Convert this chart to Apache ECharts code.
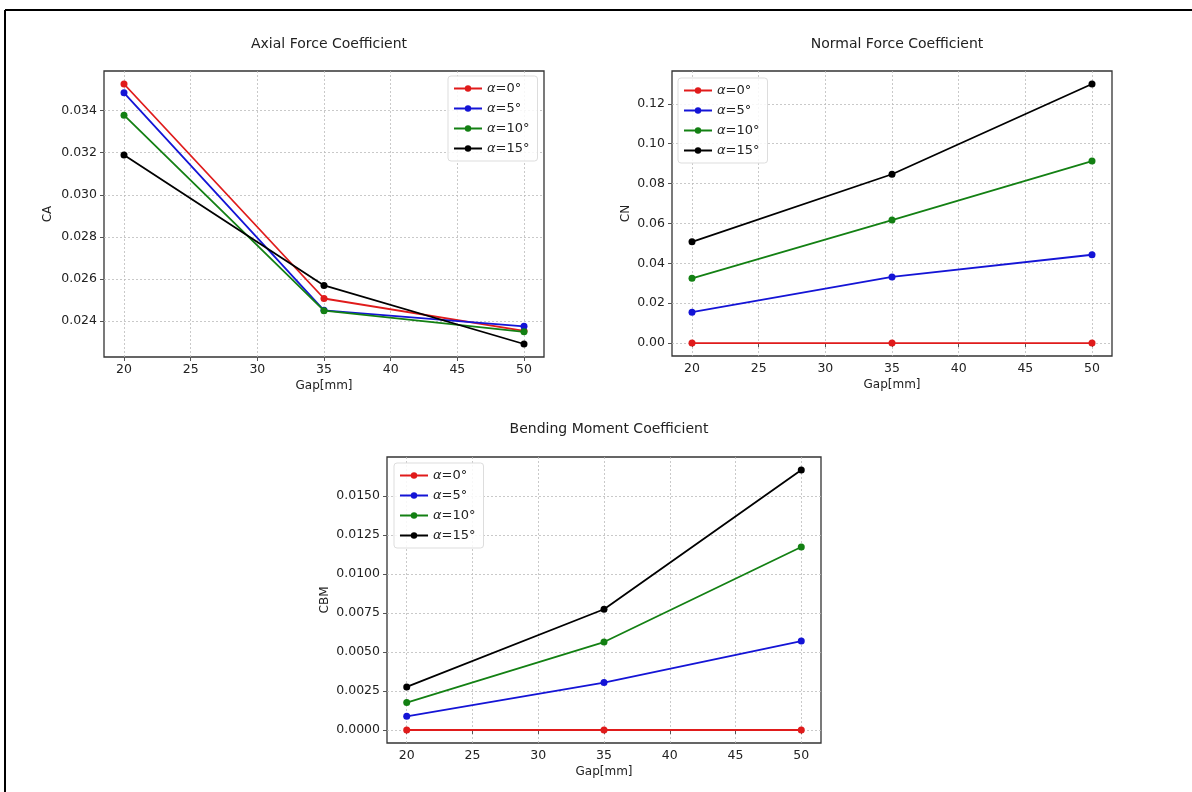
<!DOCTYPE html>
<html>
<head>
<meta charset="utf-8">
<title>Force coefficients vs gap</title>
<script src="https://cdn.jsdelivr.net/npm/echarts@6/dist/echarts.min.js"></script>
<style>
	html, body { margin: 0; padding: 0; background: #fff; }
	#chart { width: 1192px; height: 792px; }
</style>
</head>
<body>
<div id="chart"></div>
<script>
// gap values (x) and tick labels
var gap = [20, 35, 50];
var gapTicks = [20, 25, 30, 35, 40, 45, 50];

var names = ['α=0°', 'α=5°', 'α=10°', 'α=15°'];
var colors = ['#e01b1b', '#1414d6', '#138013', '#000000'];

// Axial force coefficient CA
var ca0 = [0.03526, 0.02508, 0.02354];
var ca5 = [0.03484, 0.02452, 0.02376];
var ca10 = [0.03378, 0.02450, 0.02350];
var ca15 = [0.03189, 0.02570, 0.02292];
var caTicks = [0.024, 0.026, 0.028, 0.030, 0.032, 0.034];

// Normal force coefficient CN
var cn0 = [0, 0, 0];
var cn5 = [0.0155, 0.0332, 0.0443];
var cn10 = [0.0325, 0.0617, 0.0913];
var cn15 = [0.0508, 0.0847, 0.1300];
var cnTicks = [0.00, 0.02, 0.04, 0.06, 0.08, 0.10, 0.12];

// Bending moment coefficient CBM
var cbm0 = [0, 0, 0];
var cbm5 = [0.00088, 0.00304, 0.0057];
var cbm10 = [0.00176, 0.00564, 0.01173];
var cbm15 = [0.00276, 0.00774, 0.01667];
var cbmTicks = [0.0000, 0.0025, 0.0050, 0.0075, 0.0100, 0.0125, 0.0150];

var FONT = 'DejaVu Sans';

// matplotlib style 5% margins
function pad(arrs) {
	var all = [].concat.apply([], arrs);
	var lo = Math.min.apply(null, all), hi = Math.max.apply(null, all);
	var m = (hi - lo) * 0.05;
	return [lo - m, hi + m];
}

function xAxisCfg(idx) {
	return {
		type : 'value',
		gridIndex : idx,
		min : 18.5,
		max : 51.5,
		name : 'Gap[mm]',
		nameLocation : 'middle',
		nameGap : 23,
		nameTextStyle : { fontFamily : FONT, fontSize : 12, color : '#222' },
		axisLine : { show : false },
		axisTick : { show : true, length : 4, customValues : gapTicks, lineStyle : { color : '#555' } },
		axisLabel : { customValues : gapTicks, fontFamily : FONT, fontSize : 12.5, color : '#222', margin : 6 },
		splitLine : { show : true, lineStyle : { color : '#bbb', type : [2, 2], width : 0.8 } }
	};
}

function yAxisCfg(idx, range, ticks, dec, name, gapPx) {
	return {
		type : 'value',
		gridIndex : idx,
		min : range[0],
		max : range[1],
		name : name,
		nameLocation : 'middle',
		nameGap : gapPx,
		nameTextStyle : { fontFamily : FONT, fontSize : 12, color : '#222' },
		axisLine : { show : false },
		axisTick : { show : true, length : 4, customValues : ticks, lineStyle : { color : '#555' } },
		axisLabel : {
			customValues : ticks,
			fontFamily : FONT, fontSize : 12.5, color : '#222', margin : 7,
			formatter : function(v) { return v.toFixed(dec); }
		},
		splitLine : { show : true, lineStyle : { color : '#bbb', type : [2, 2], width : 0.8 } }
	};
}

function legendCfg(pos) {
	return {
		data : names,
		orient : 'vertical',
		left : pos[0],
		top : pos[1],
		itemWidth : 28,
		itemHeight : 8,
		itemGap : 7,
		padding : [6, 8, 6, 5],
		backgroundColor : 'rgba(255,255,255,0.85)',
		borderColor : '#ddd',
		borderWidth : 1,
		borderRadius : 3,
		formatter : function(n) { return '{i|α}{t|' + n.slice(1) + '}'; },
		textStyle : {
			fontFamily : FONT, fontSize : 13, color : '#222',
			rich : {
				i : { fontFamily : FONT, fontSize : 13, fontStyle : 'italic', color : '#222' },
				t : { fontFamily : FONT, fontSize : 13, color : '#222' }
			}
		}
	};
}

function makeSeries(idx, sets) {
	var out = [];
	for (var i = 0; i < sets.length; i++) {
		var pts = [];
		for (var j = 0; j < gap.length; j++) {
			pts.push([ gap[j], sets[i][j] ]);
		}
		out.push({
			name : names[i],
			type : 'line',
			xAxisIndex : idx,
			yAxisIndex : idx,
			data : pts,
			symbol : 'circle',
			symbolSize : 7,
			color : colors[i],
			lineStyle : { width : 1.8, color : colors[i] },
			itemStyle : { color : colors[i] },
			z : 3 + i
		});
	}
	return out;
}

var caSets = [ca0, ca5, ca10, ca15];
var cnSets = [cn0, cn5, cn10, cn15];
var cbmSets = [cbm0, cbm5, cbm10, cbm15];

var chart = echarts.init(document.getElementById('chart'));
var option = {
	animation : false,
	backgroundColor : '#fff',
	title : [
		{ text : 'Axial Force Coefficient', left : 324, top : 32, textAlign : 'center',
			textStyle : { fontFamily : FONT, fontSize : 14, fontWeight : 'normal', color : '#222' } },
		{ text : 'Normal Force Coefficient', left : 892, top : 32, textAlign : 'center',
			textStyle : { fontFamily : FONT, fontSize : 14, fontWeight : 'normal', color : '#222' } },
		{ text : 'Bending Moment Coefficient', left : 604, top : 417, textAlign : 'center',
			textStyle : { fontFamily : FONT, fontSize : 14, fontWeight : 'normal', color : '#222' } }
	],
	grid : [
		{ left : 104, top : 71, width : 440, height : 286, show : true, borderColor : '#333', borderWidth : 1.3, backgroundColor : 'transparent' },
		{ left : 672, top : 71, width : 440, height : 285, show : true, borderColor : '#333', borderWidth : 1.3, backgroundColor : 'transparent' },
		{ left : 387, top : 457, width : 434, height : 286, show : true, borderColor : '#333', borderWidth : 1.3, backgroundColor : 'transparent' }
	],
	xAxis : [ xAxisCfg(0), xAxisCfg(1), xAxisCfg(2) ],
	yAxis : [
		yAxisCfg(0, pad(caSets), caTicks, 3, 'CA', 50),
		yAxisCfg(1, pad(cnSets), cnTicks, 2, 'CN', 40),
		yAxisCfg(2, pad(cbmSets), cbmTicks, 4, 'CBM', 56)
	],
	legend : [ legendCfg([448, 76]), legendCfg([678, 78]), legendCfg([394, 463]) ],
	series : [].concat(makeSeries(0, caSets), makeSeries(1, cnSets), makeSeries(2, cbmSets)),
	graphic : [
		// outer frame (left and top edges only, as in the picture)
		{ type : 'line', shape : { x1 : 5, y1 : 10, x2 : 5, y2 : 792 }, style : { stroke : '#000', lineWidth : 2 } },
		{ type : 'line', shape : { x1 : 5, y1 : 10, x2 : 1192, y2 : 10 }, style : { stroke : '#000', lineWidth : 2 } }
	]
};
chart.setOption(option);
window.addEventListener('resize', chart.resize);
</script>
</body>
</html>
